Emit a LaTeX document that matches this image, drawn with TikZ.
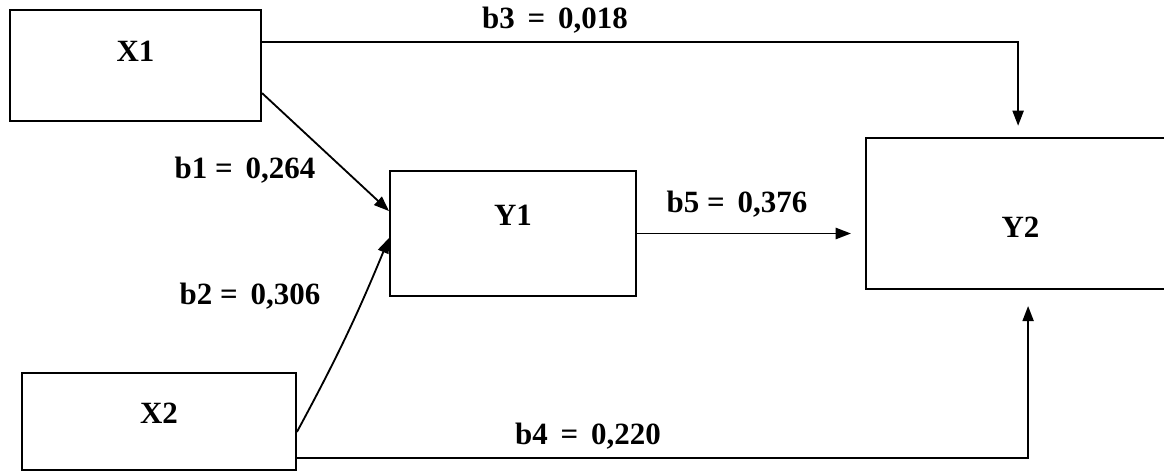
\documentclass[tikz,border=0pt]{standalone}
\usepackage{fontspec}
\setmainfont{Liberation Serif}
\usetikzlibrary{arrows.meta,positioning}

\begin{document}
\begin{tikzpicture}[
            x=0.025cm, y=-0.025cm,
            var/.style={
                draw,
                line width=1.3pt,
                align=center,
                inner sep=0pt,
                font=\fontsize{22}{26}\selectfont\bfseries
            },
            coef/.style={
                inner sep=0pt,
                font=\fontsize{22}{26}\selectfont\bfseries
            },
            arr/.style={-{Triangle[length=3.8mm,width=2.8mm]},line width=1.3pt}
        ]
            \useasboundingbox (0,0) rectangle (1164,474);

            \node[var,minimum width=6.28cm,minimum height=2.78cm] (x1) at (135.5,65.5) {\raisebox{0.1cm}[0pt][0pt]{X1}};
            \node[var,minimum width=6.85cm,minimum height=2.43cm] (x2) at (159,421.5) {\raisebox{-0.05cm}[0pt][0pt]{X2}};
            \node[var,minimum width=6.15cm,minimum height=3.13cm] (y1) at (513,233.5) {\raisebox{0.2cm}[0pt][0pt]{Y1}};
            \node[var,minimum width=7.73cm,minimum height=3.78cm] (y2) at (1020.5,213.5) {\raisebox{-0.6cm}[0pt][0pt]{Y2}};

            \node[coef] (b3) at (555,20) {b3 \,=\, 0,018};
            \node[coef] (b1) at (245,170) {b1 = \,0,264};
            \node[coef] (b2) at (250,296) {b2 = \,0,306};
            \node[coef] (b5) at (737,204) {b5 = \,0,376};
            \node[coef] (b4) at (588,436) {b4 \,=\, 0,220};

            \draw[arr,shorten >=0.28cm] ([yshift=0.58cm]x1.east) -| ([xshift=-0.06cm]y2.north);
            \draw[arr] ([yshift=-0.69cm]x1.east) -- ([yshift=0.56cm]y1.west);
            \draw[arr] ([yshift=-0.26cm]x2.east) to[bend right=3] ([yshift=-0.11cm]y1.west);
            \draw[arr,shorten >=0.35cm] (y1.east) -- (y1.east -| y2.west);
            \draw[arr,shorten >=0.4cm] ([yshift=-0.91cm]x2.east) -| ([xshift=0.19cm]y2.south);
        \end{tikzpicture}
\end{document}
